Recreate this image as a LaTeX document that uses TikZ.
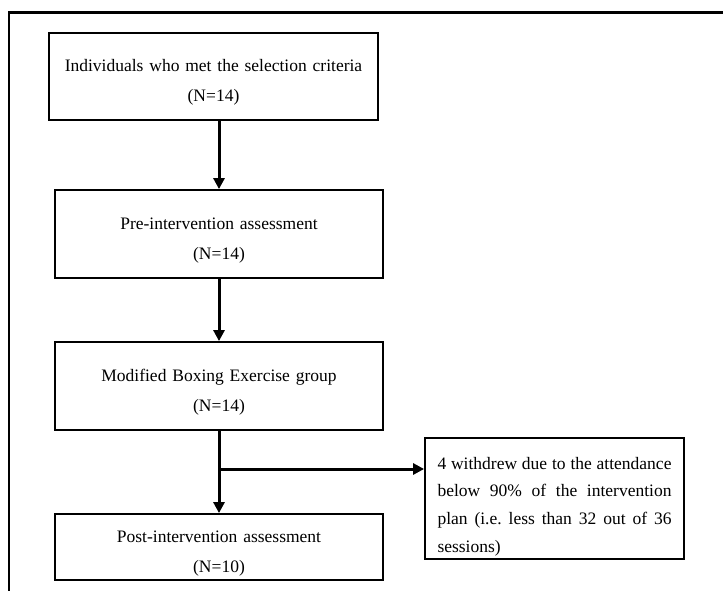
\documentclass[tikz,border=0pt]{standalone}
\usepackage{fontspec}
\setmainfont{Liberation Serif}
\usetikzlibrary{positioning,arrows.meta}

\begin{document}
\begin{tikzpicture}[x=1pt, y=-1pt,
    stage/.style={draw, line width=1.8pt, minimum width=328pt, minimum height=88pt, text width=320pt, align=center, inner sep=0pt, font=\fontsize{17.5}{30}\selectfont, execute at begin node={\rule{0pt}{24pt}}},
    note/.style={draw, line width=1.8pt, minimum width=259pt, minimum height=121pt, text width=234pt, align=justify, font=\fontsize{17.5}{27.7}\selectfont, execute at begin node={\rule{0pt}{28pt}}},
    arrow/.style={-{Triangle[length=11pt, width=11pt]}, line width=3pt},
  ]
  \useasboundingbox (0,0) rectangle (723,591);

  % Frame
  \draw[line width=2.4pt] (723,12.5) -- (9,12.5) -- (9,591);

  % Stages
  \node[stage, minimum width=329pt, minimum height=87pt] (select) at (213.5,76.5) {%
    Individuals who met the selection criteria\\(N=14)};
  \node[stage] (pre) at (219,234) {Pre-intervention assessment\\(N=14)};
  \node[stage] (boxing) at (219,386) {Modified Boxing Exercise group\\(N=14)};
  \node[stage, minimum height=66pt] (post) at (219,547) {Post-intervention assessment\\(N=10)};

  % Withdrawn
  \node[note] (withdrawn) at (554.5,498.5) {%
    4 withdrew due to the attendance\linebreak below 90\% of the intervention\linebreak plan (i.e.\ less than 32 out of 36\linebreak sessions)};

  % Arrows
  \draw[arrow] (select.south -| pre) -- (pre.north);
  \draw[arrow] (pre) -- (boxing);
  \draw[arrow] (boxing) -- (post);
  \coordinate (split) at (boxing.south |- 0,469);
  \draw[arrow] (split) -- (split -| withdrawn.west);
\end{tikzpicture}
\end{document}
